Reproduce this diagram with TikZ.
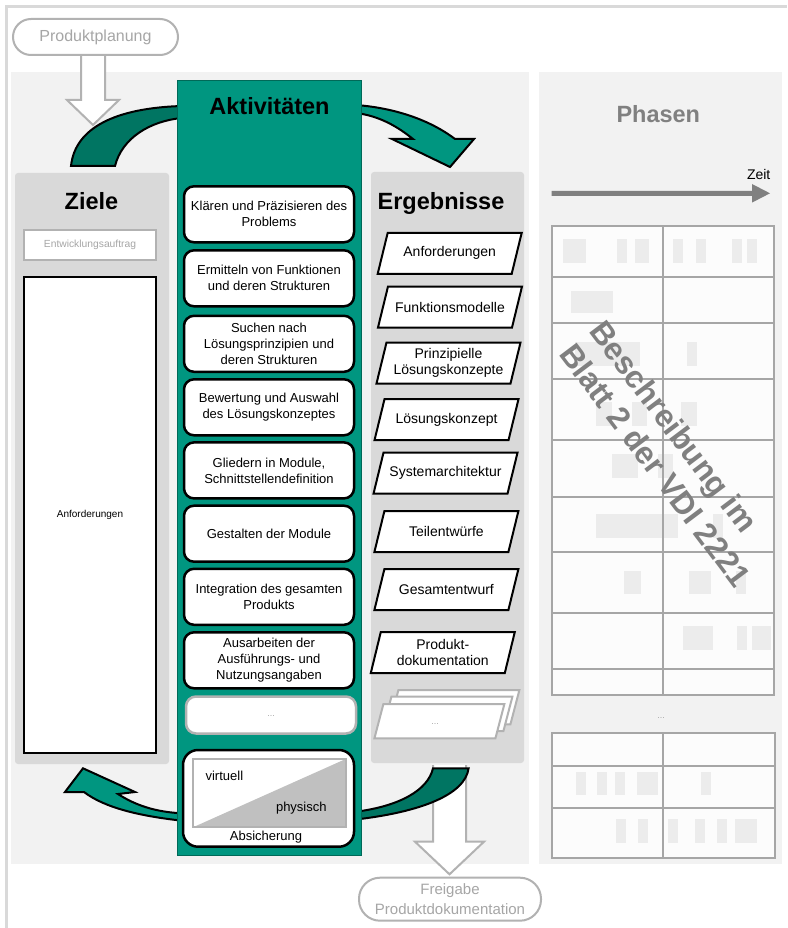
\documentclass[tikz,border=0pt]{standalone}
\usepackage{fontspec}
\setmainfont{Liberation Sans}
\usetikzlibrary{calc}

\definecolor{tealmain}{RGB}{0,150,128}
\definecolor{tealdark}{RGB}{0,117,98}
\definecolor{tealedge}{RGB}{0,105,88}
\definecolor{panelgray}{RGB}{242,242,242}
\definecolor{colgray}{RGB}{217,217,217}
\definecolor{framegray}{RGB}{217,217,217}
\definecolor{linegray}{RGB}{178,178,178}
\definecolor{textgray}{RGB}{166,166,166}
\definecolor{titlegray}{RGB}{128,128,128}
\definecolor{cellfill}{RGB}{252,252,252}
\definecolor{blockgray}{RGB}{236,236,236}
\definecolor{gridgray}{RGB}{166,166,166}
\definecolor{trigray}{RGB}{192,192,192}

\begin{document}
\begin{tikzpicture}[x=1pt,y=-1pt,
  every node/.style={inner sep=0pt},
  frameline/.style={draw=framegray, line width=3pt},
  coltitle/.style={anchor=base, font=\fontsize{23.5}{28}\selectfont\bfseries},
  actbox/.style={draw=black, line width=2.5pt, fill=white, rounded corners=10pt,
    minimum width=170pt, minimum height=56pt, align=center,
    font=\fontsize{13}{16}\selectfont},
  ergtext/.style={align=center, font=\fontsize{14}{16.5}\selectfont},
  pgramline/.style={draw=black, line width=2pt, fill=white, line join=miter},
  stackline/.style={draw=linegray, line width=2pt, fill=white, line join=miter},
  blockarrow/.style={draw=linegray, line width=2pt, fill=white, line join=miter},
  pill/.style={draw=linegray, line width=2pt, fill=white, text=textgray},
  curvearrow/.style={draw=black, line width=2pt, line join=miter},
  gridline/.style={draw=gridgray, line width=2pt},
  besch/.style={anchor=base west, rotate=-53, text=titlegray,
    font=\fontsize{31.5}{36}\selectfont\bfseries},
  smalldots/.style={text=textgray, font=\fontsize{9}{10}\selectfont}
]
\useasboundingbox (0,0) rectangle (787,928);
\fill[white] (0,0) rectangle (787,928);

% outer frame (top and left edges only)
\draw[frameline] (5,7) -- (787,7);
\draw[frameline] (6,7) -- (6,928);

% background panels
\fill[panelgray] (11,72) rectangle (529,864);
\fill[panelgray] (539,72) rectangle (782,864);

% columns for goals and results
\fill[colgray, rounded corners=3pt] (15,173) rectangle (169,764);
\fill[colgray, rounded corners=3pt] (371,172) rectangle (524,763);
\node[coltitle] (ziele) at (91.5,209.3) {Ziele};
\node[coltitle] (ergeb) at (441,209) {Ergebnisse};

% goals
\node[draw=linegray, line width=2pt, fill=white, minimum width=132pt, minimum height=30pt,
  text=textgray, font=\fontsize{10.3}{12}\selectfont] (auftrag) at (90,245) {Entwicklungsauftrag};
\node[draw=black, line width=2pt, fill=white, minimum width=132pt, minimum height=476.6pt,
  font=\fontsize{10}{12}\selectfont] (anfziel) at (90,515) {Anforderungen};

% input and output block arrows
\draw[blockarrow] (81,50) -- (81,100) -- (67,100) -- (93,125) -- (119,100) -- (105,100) -- (105,50);
\node[pill, minimum width=165pt, minimum height=36pt, rounded corners=18pt,
  font=\fontsize{16}{19}\selectfont] (plan) at (95.5,37) {Produktplanung};
\draw[blockarrow] (433,765) -- (433,841.7) -- (415,841.7) -- (449.5,874.3) -- (484,841.7) -- (466,841.7) -- (466,765);
\node[pill, minimum width=182pt, minimum height=43pt, rounded corners=21pt, align=center,
  font=\fontsize{15}{19.5}\selectfont] (frei) at (450,899.2) {Freigabe\\Produktdokumentation};

% iteration arrows around the activities
\filldraw[curvearrow, fill=tealdark]
  (182,106) .. controls (115,108) and (75,128) .. (71,166) -- (115,166)
  .. controls (122,138) and (150,121) .. (182,118) -- cycle;
\filldraw[curvearrow, fill=tealmain]
  (356,105) .. controls (395,108) and (430,120) .. (455,139) -- (474,139) -- (450,167)
  -- (392,139) -- (413,139) .. controls (398,127) and (380,116) .. (356,113) -- cycle;
\filldraw[curvearrow, fill=tealdark]
  (468.6,768.3) .. controls (465,795) and (420,812) .. (356,819.5) -- (356,811.7)
  .. controls (400,806) and (428,790) .. (433,768.3) -- cycle;
\filldraw[curvearrow, fill=tealmain]
  (182,820.7) .. controls (140,816) and (105,808) .. (84,792) -- (65,792) -- (83,768.3)
  -- (135,792) -- (118,794) .. controls (135,805) and (155,812) .. (182,813.3) -- cycle;

% activities column
\filldraw[fill=tealmain, draw=tealedge, line width=1pt] (177.5,81) rectangle (361.5,855.7);
\node[coltitle] (akt) at (269.5,114.3) {Aktivitäten};

\node[actbox] (a1) at (269,214.3) {Klären und Präzisieren des\\Problems};
\node[actbox] (a2) at (269,278.3) {Ermitteln von Funktionen\\und deren Strukturen};
\node[actbox] (a3) at (269,343.8) {Suchen nach\\Lösungsprinzipien und\\deren Strukturen};
\node[actbox] (a4) at (269,407.3) {Bewertung und Auswahl\\des Lösungskonzeptes};
\node[actbox] (a5) at (269,470.4) {Gliedern in Module,\\Schnittstellendefinition};
\node[actbox] (a6) at (269,533.7) {Gestalten der Module};
\node[actbox] (a7) at (269,596.8) {Integration des gesamten\\Produkts};
\node[actbox] (a8) at (269,660.3) {Ausarbeiten der\\Ausführungs- und\\Nutzungsangaben};
\node[actbox, draw=linegray, minimum width=170pt, minimum height=37pt] (a9) at (271,715) {};
\node[smalldots] (a9dots) at (271,716) {...};

% verification box
\draw[draw=black, line width=2.5pt, fill=white, rounded corners=15pt] (183,750) rectangle (354,846.7);
\fill[white] (193,759) rectangle (345.7,827.3);
\fill[trigray] (193,827.3) -- (345.7,759) -- (345.7,827.3) -- cycle;
\draw[draw=linegray, line width=2pt] (193,759) rectangle (345.7,827.3);
\node[anchor=west, font=\fontsize{13}{16}\selectfont] (virt) at (205.4,776) {virtuell};
\node[anchor=east, font=\fontsize{13}{16}\selectfont] (phys) at (326.8,807.7) {physisch};
\node[font=\fontsize{13}{16}\selectfont] (absich) at (266,836.7) {Absicherung};

% results as parallelograms
\foreach \n/\cx/\cy/\t in {
  r1/449.7/253.3/Anforderungen,
  r2/450/307/Funktionsmodelle,
  r3/448.5/363/{Prinzipielle\\Lösungskonzepte},
  r4/446.5/419.7/Lösungskonzept,
  r5/445.5/473.2/Systemarchitektur,
  r6/446.4/531.5/Teilentwürfe,
  r7/446.4/589.5/Gesamtentwurf,
  r8/442.8/652.5/{Produkt-\\dokumentation}}{
  \draw[pgramline, shift={(\cx,\cy)}] (-62,-20.5) -- (72,-20.5) -- (62,20.5) -- (-72,20.5) -- cycle;
  \node[ergtext] (\n) at (\cx,\cy) {\t};
}
\draw[stackline, shift={(454.4,707.2)}] (-56,-17.2) -- (65,-17.2) -- (56,17.2) -- (-65,17.2) -- cycle;
\draw[stackline, shift={(447.4,713.9)}] (-56,-17.2) -- (65,-17.2) -- (56,17.2) -- (-65,17.2) -- cycle;
\draw[stackline, shift={(439.4,721.2)}] (-56,-17.2) -- (65,-17.2) -- (56,17.2) -- (-65,17.2) -- cycle;
\node[smalldots] (r9) at (435,724) {...};

% phases
\node[coltitle, text=titlegray] (phasen) at (658.3,122.3) {Phasen};
\fill[titlegray] (551.7,190.8) -- (752,190.8) -- (752,184) -- (770,193.3) -- (752,202.6)
  -- (752,195.8) -- (551.7,195.8) -- cycle;
\node[anchor=base, font=\fontsize{14}{16}\selectfont] (zeit) at (758.7,179.3) {Zeit};

% phase table, upper part
\fill[cellfill] (551.7,225.7) rectangle (774.3,695);
\foreach \a/\b/\c/\d in {
  562.7/239/586/262.7, 617.3/239/627.3/262.7, 635/239/649.3/262.7, 672.7/239/682.7/262.7,
  696/239/706/262.7, 732.3/239/742.3/262.7, 747.3/239/757.3/262.7,
  571/290.7/612.7/313.3,
  575/341.7/640/365.7, 686.7/341.7/696.7/365.7,
  596/402.3/611.7/426, 631.7/402.3/647.3/426, 681/402.3/696.7/426,
  611.7/454/637.7/477.7, 658.3/454/672.7/477.7,
  596/514/677.7/537.7, 713.3/514/722.7/537.7,
  624/571/640.7/594.3, 689/571/711/594.3, 736/571/746/594.3,
  682.7/626/712.7/650, 736.7/626/746.7/650, 751.7/626/770.7/650}
  \fill[blockgray] (\a,\b) rectangle (\c,\d);
\draw[gridline] (551.7,225.7) rectangle (774.3,695);
\draw[gridline] (663.3,225.7) -- (663.3,695);
\foreach \y in {276.7,323.3,379,440,496.7,551.7,612.7,669}
  \draw[gridline] (551.7,\y) -- (774.3,\y);

\node[smalldots] (tdots) at (661,718) {...};

% phase table, lower part
\fill[cellfill] (551.7,733.3) rectangle (775,858.3);
\foreach \a/\b/\c/\d in {
  576/771.7/586/795, 596.7/771.7/607.3/795, 615/771.7/625/795, 636.7/771.7/658.3/795,
  701/771.7/711/795,
  616/819.3/626/842.7, 637.7/819.3/647.7/842.7, 667.7/819.3/677.7/842.7,
  695/819.3/705/842.7, 716.7/819.3/726.7/842.7, 735/819.3/756.7/842.7}
  \fill[blockgray] (\a,\b) rectangle (\c,\d);
\draw[gridline] (551.7,733.3) rectangle (775,858.3);
\draw[gridline] (663.3,733.3) -- (663.3,858.3);
\foreach \y in {765.7,808.3}
  \draw[gridline] (551.7,\y) -- (775,\y);

% reference note across the table
\node[besch] (b1) at (588,331) {Beschreibung im};
\node[besch] (b2) at (558,354.3) {Blatt 2 der VDI 2221};
\end{tikzpicture}
\end{document}
